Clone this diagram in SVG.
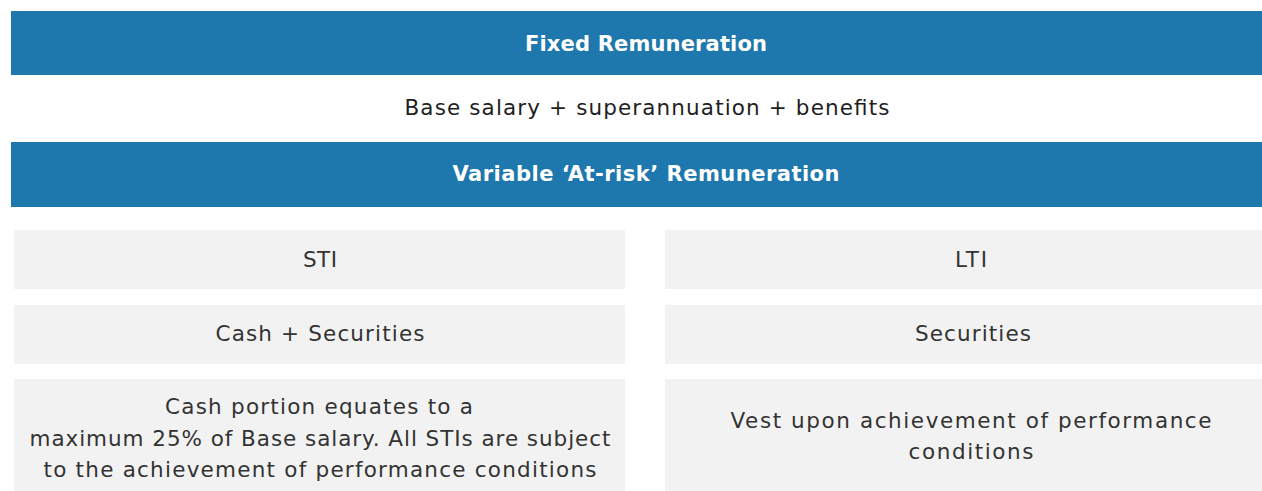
<svg xmlns="http://www.w3.org/2000/svg" width="1262" height="491" viewBox="0 0 1262 491">
<style>
.bar{fill:#1f78ad}
.box{fill:#f2f2f2}
.h{font-family:"DejaVu Sans","Noto Sans",sans-serif;font-size:21px;font-weight:700;fill:#ffffff;text-anchor:middle}
.t{font-family:"DejaVu Sans","Noto Sans",sans-serif;font-size:21.5px;fill:#1e1e1e;text-anchor:middle}
.g{font-family:"DejaVu Sans","Noto Sans",sans-serif;font-size:21.5px;fill:#333333;text-anchor:middle}
</style>
<rect width="1262" height="491" fill="#ffffff"/>
<g id="fixed">
<rect class="bar" x="11" y="11" width="1251" height="64"/>
<text class="h" x="646" y="51" textLength="242" lengthAdjust="spacing">Fixed Remuneration</text>
</g>
<g id="fixed-desc">
<text class="t" x="647" y="115" textLength="485" lengthAdjust="spacing">Base salary + superannuation + benefits</text>
</g>
<g id="variable">
<rect class="bar" x="11" y="142" width="1251" height="65"/>
<text class="h" x="646" y="181" textLength="387" lengthAdjust="spacing">Variable ‘At-risk’ Remuneration</text>
</g>
<g id="sti">
<rect class="box" x="14" y="230" width="611" height="59"/>
<text class="g" x="320" y="267" textLength="34" lengthAdjust="spacing">STI</text>
</g>
<g id="sti-type">
<rect class="box" x="14" y="305" width="611" height="59"/>
<text class="g" x="320" y="341" textLength="209" lengthAdjust="spacing">Cash + Securities</text>
</g>
<g id="sti-desc">
<rect class="box" x="14" y="379" width="611" height="112"/>
<text class="g" x="319" y="414" textLength="308" lengthAdjust="spacing">Cash portion equates to a</text>
<text class="g" x="320" y="446" textLength="581" lengthAdjust="spacing">maximum 25% of Base salary. All STIs are subject</text>
<text class="g" x="320" y="477" textLength="553" lengthAdjust="spacing">to the achievement of performance conditions</text>
</g>
<g id="lti">
<rect class="box" x="665" y="230" width="597" height="59"/>
<text class="g" x="971" y="267" textLength="32" lengthAdjust="spacing">LTI</text>
</g>
<g id="lti-type">
<rect class="box" x="665" y="305" width="597" height="59"/>
<text class="g" x="973" y="341" textLength="116" lengthAdjust="spacing">Securities</text>
</g>
<g id="lti-desc">
<rect class="box" x="665" y="379" width="597" height="112"/>
<text class="g" x="971" y="428" textLength="481" lengthAdjust="spacing">Vest upon achievement of performance</text>
<text class="g" x="971" y="459" textLength="125" lengthAdjust="spacing">conditions</text>
</g>
<g id="connectors"></g>
</svg>
